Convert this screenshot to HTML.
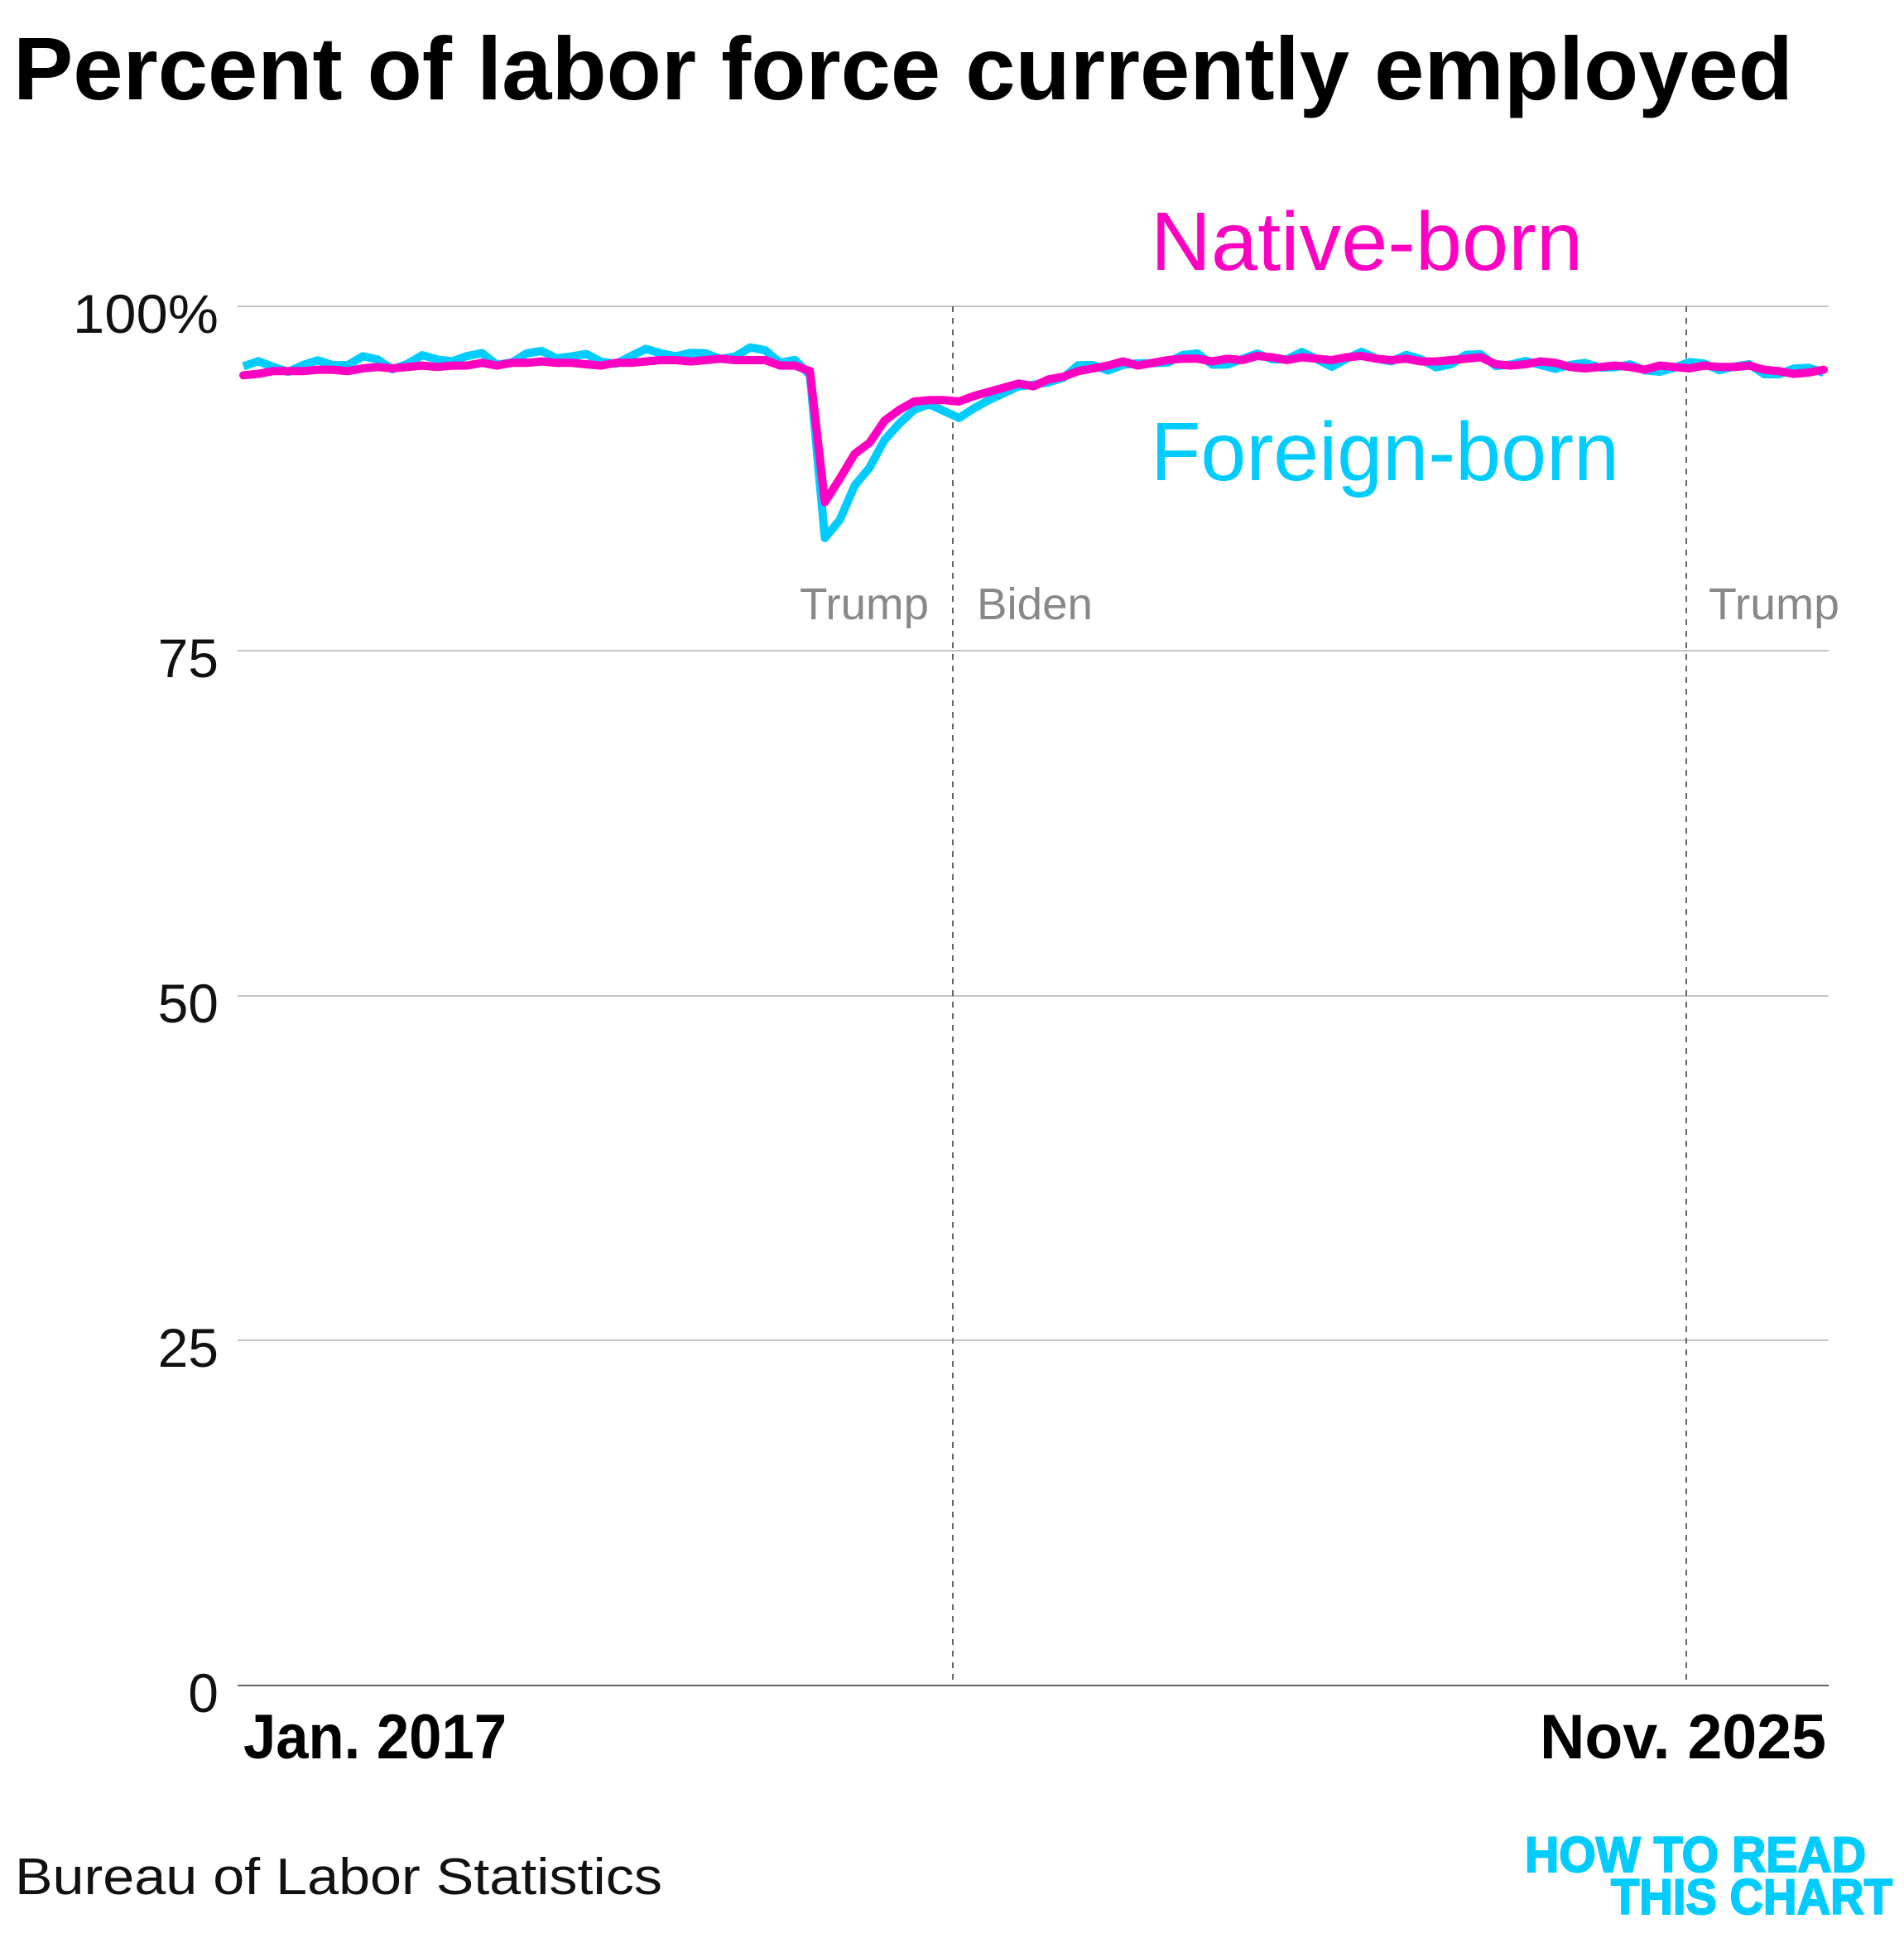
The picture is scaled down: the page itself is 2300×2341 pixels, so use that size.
<!DOCTYPE html>
<html><head><meta charset="utf-8"><style>
html,body{margin:0;padding:0;background:#fff;}
svg{display:block;}
</style></head><body>
<svg id="c" width="2300" height="2341" viewBox="0 0 2300 2341" xmlns="http://www.w3.org/2000/svg" font-family="Liberation Sans, sans-serif">
<text x="16" y="120" font-size="108" font-weight="bold" textLength="2150" lengthAdjust="spacingAndGlyphs">Percent of labor force currently employed</text>
<g stroke="#c4c4c4" stroke-width="2">
<line x1="287" x2="2209" y1="370" y2="370"/>
<line x1="287" x2="2209" y1="786" y2="786"/>
<line x1="287" x2="2209" y1="1203" y2="1203"/>
<line x1="287" x2="2209" y1="1619" y2="1619"/>
</g>
<line x1="287" x2="2209" y1="2036" y2="2036" stroke="#666" stroke-width="2"/>
<g stroke="#666" stroke-width="2" stroke-dasharray="7,7">
<line x1="1151" x2="1151" y1="370" y2="2036"/>
<line x1="2037" x2="2037" y1="370" y2="2036"/>
</g>
<g font-size="66" text-anchor="end" fill="#111">
<text x="264" y="402" textLength="176" lengthAdjust="spacingAndGlyphs">100%</text>
<text x="264" y="818">75</text>
<text x="264" y="1235">50</text>
<text x="264" y="1651">25</text>
<text x="264" y="2068">0</text>
</g>
<g font-size="54" fill="#888">
<text x="966" y="748" textLength="156" lengthAdjust="spacingAndGlyphs">Trump</text>
<text x="1180" y="748" textLength="140" lengthAdjust="spacingAndGlyphs">Biden</text>
<text x="2064" y="748" textLength="158" lengthAdjust="spacingAndGlyphs">Trump</text>
</g>
<text x="1390" y="326" font-size="100" fill="#ff00c3" textLength="522" lengthAdjust="spacingAndGlyphs">Native-born</text>
<text x="1390" y="580" font-size="100" fill="#00ccff" textLength="566" lengthAdjust="spacingAndGlyphs">Foreign-born</text>
<polyline id="fb" fill="none" stroke="#00ccff" stroke-width="10" stroke-linejoin="round"/>
<polyline id="nb" fill="none" stroke="#ff00c3" stroke-width="10" stroke-linejoin="round" stroke-linecap="round"/>
<text x="294" y="2124" font-size="76" font-weight="bold" textLength="318" lengthAdjust="spacingAndGlyphs">Jan. 2017</text>
<text x="2206" y="2124" font-size="76" font-weight="bold" text-anchor="end" textLength="346" lengthAdjust="spacingAndGlyphs">Nov. 2025</text>
<text x="18" y="2288" font-size="62" fill="#111" textLength="782" lengthAdjust="spacingAndGlyphs">Bureau of Labor Statistics</text>
<g font-size="60" font-weight="bold" fill="#00ccff" text-anchor="end" stroke="#00ccff" stroke-width="2">
<text x="2254" y="2261" textLength="412" lengthAdjust="spacingAndGlyphs">HOW TO READ</text>
<text x="2286" y="2312" textLength="340" lengthAdjust="spacingAndGlyphs">THIS CHART</text>
</g>
</svg>
<script>
var ur=[4.7,4.6,4.4,4.4,4.4,4.3,4.3,4.4,4.2,4.1,4.2,4.1,
4.0,4.1,4.0,4.0,3.8,4.0,3.8,3.8,3.7,3.8,3.8,3.9,
4.0,3.8,3.8,3.7,3.6,3.6,3.7,3.6,3.5,3.6,3.6,3.6,
4.0,4.0,4.4,13.9,12.2,10.4,9.6,8.0,7.2,6.6,6.5,6.5,
6.6,6.2,5.9,5.6,5.3,5.5,5.0,4.8,4.4,4.2,4.0,3.7,
4.0,3.8,3.6,3.5,3.5,3.7,3.5,3.6,3.3,3.4,3.6,3.4,
3.5,3.6,3.4,3.3,3.5,3.6,3.5,3.7,3.7,3.6,3.5,3.4,
3.9,4.0,3.9,3.7,3.8,4.1,4.2,4.1,4.0,4.1,4.3,4.0,
4.1,4.2,4.0,4.1,4.1,4.0,4.3,4.4,4.6,4.5,4.3];
var off=[];
for(var i=0;i<ur.length;i++){
 var w=Math.sin(i*1.7)*0.35+Math.cos(i*0.9)*0.2;
 var o;
 if(i<38)o=0.45+w;
 else if(i==38)o=-0.3;
 else {var m={39:-2.6,40:-3.0,41:-2.3,42:-1.8,43:-1.4,44:-1.0,45:-0.6,46:-0.3,47:-0.8,48:-1.2,49:-0.9,50:-0.6,51:-0.4,52:-0.2};
  o=(i in m)?m[i]:w*0.9;}
 off.push(o);
}
function pts(f){var a=[];for(var i=0;i<ur.length;i++){var v=100-ur[i]-0.3+f(i);var x=294+i*(1909/(ur.length-1));var y=2036-v*16.66;a.push(x.toFixed(1)+","+y.toFixed(1));}return a.join(" ");}
document.getElementById("nb").setAttribute("points",pts(function(i){return 0;}));
document.getElementById("fb").setAttribute("points",pts(function(i){return off[i];}));
</script>
</body></html>
